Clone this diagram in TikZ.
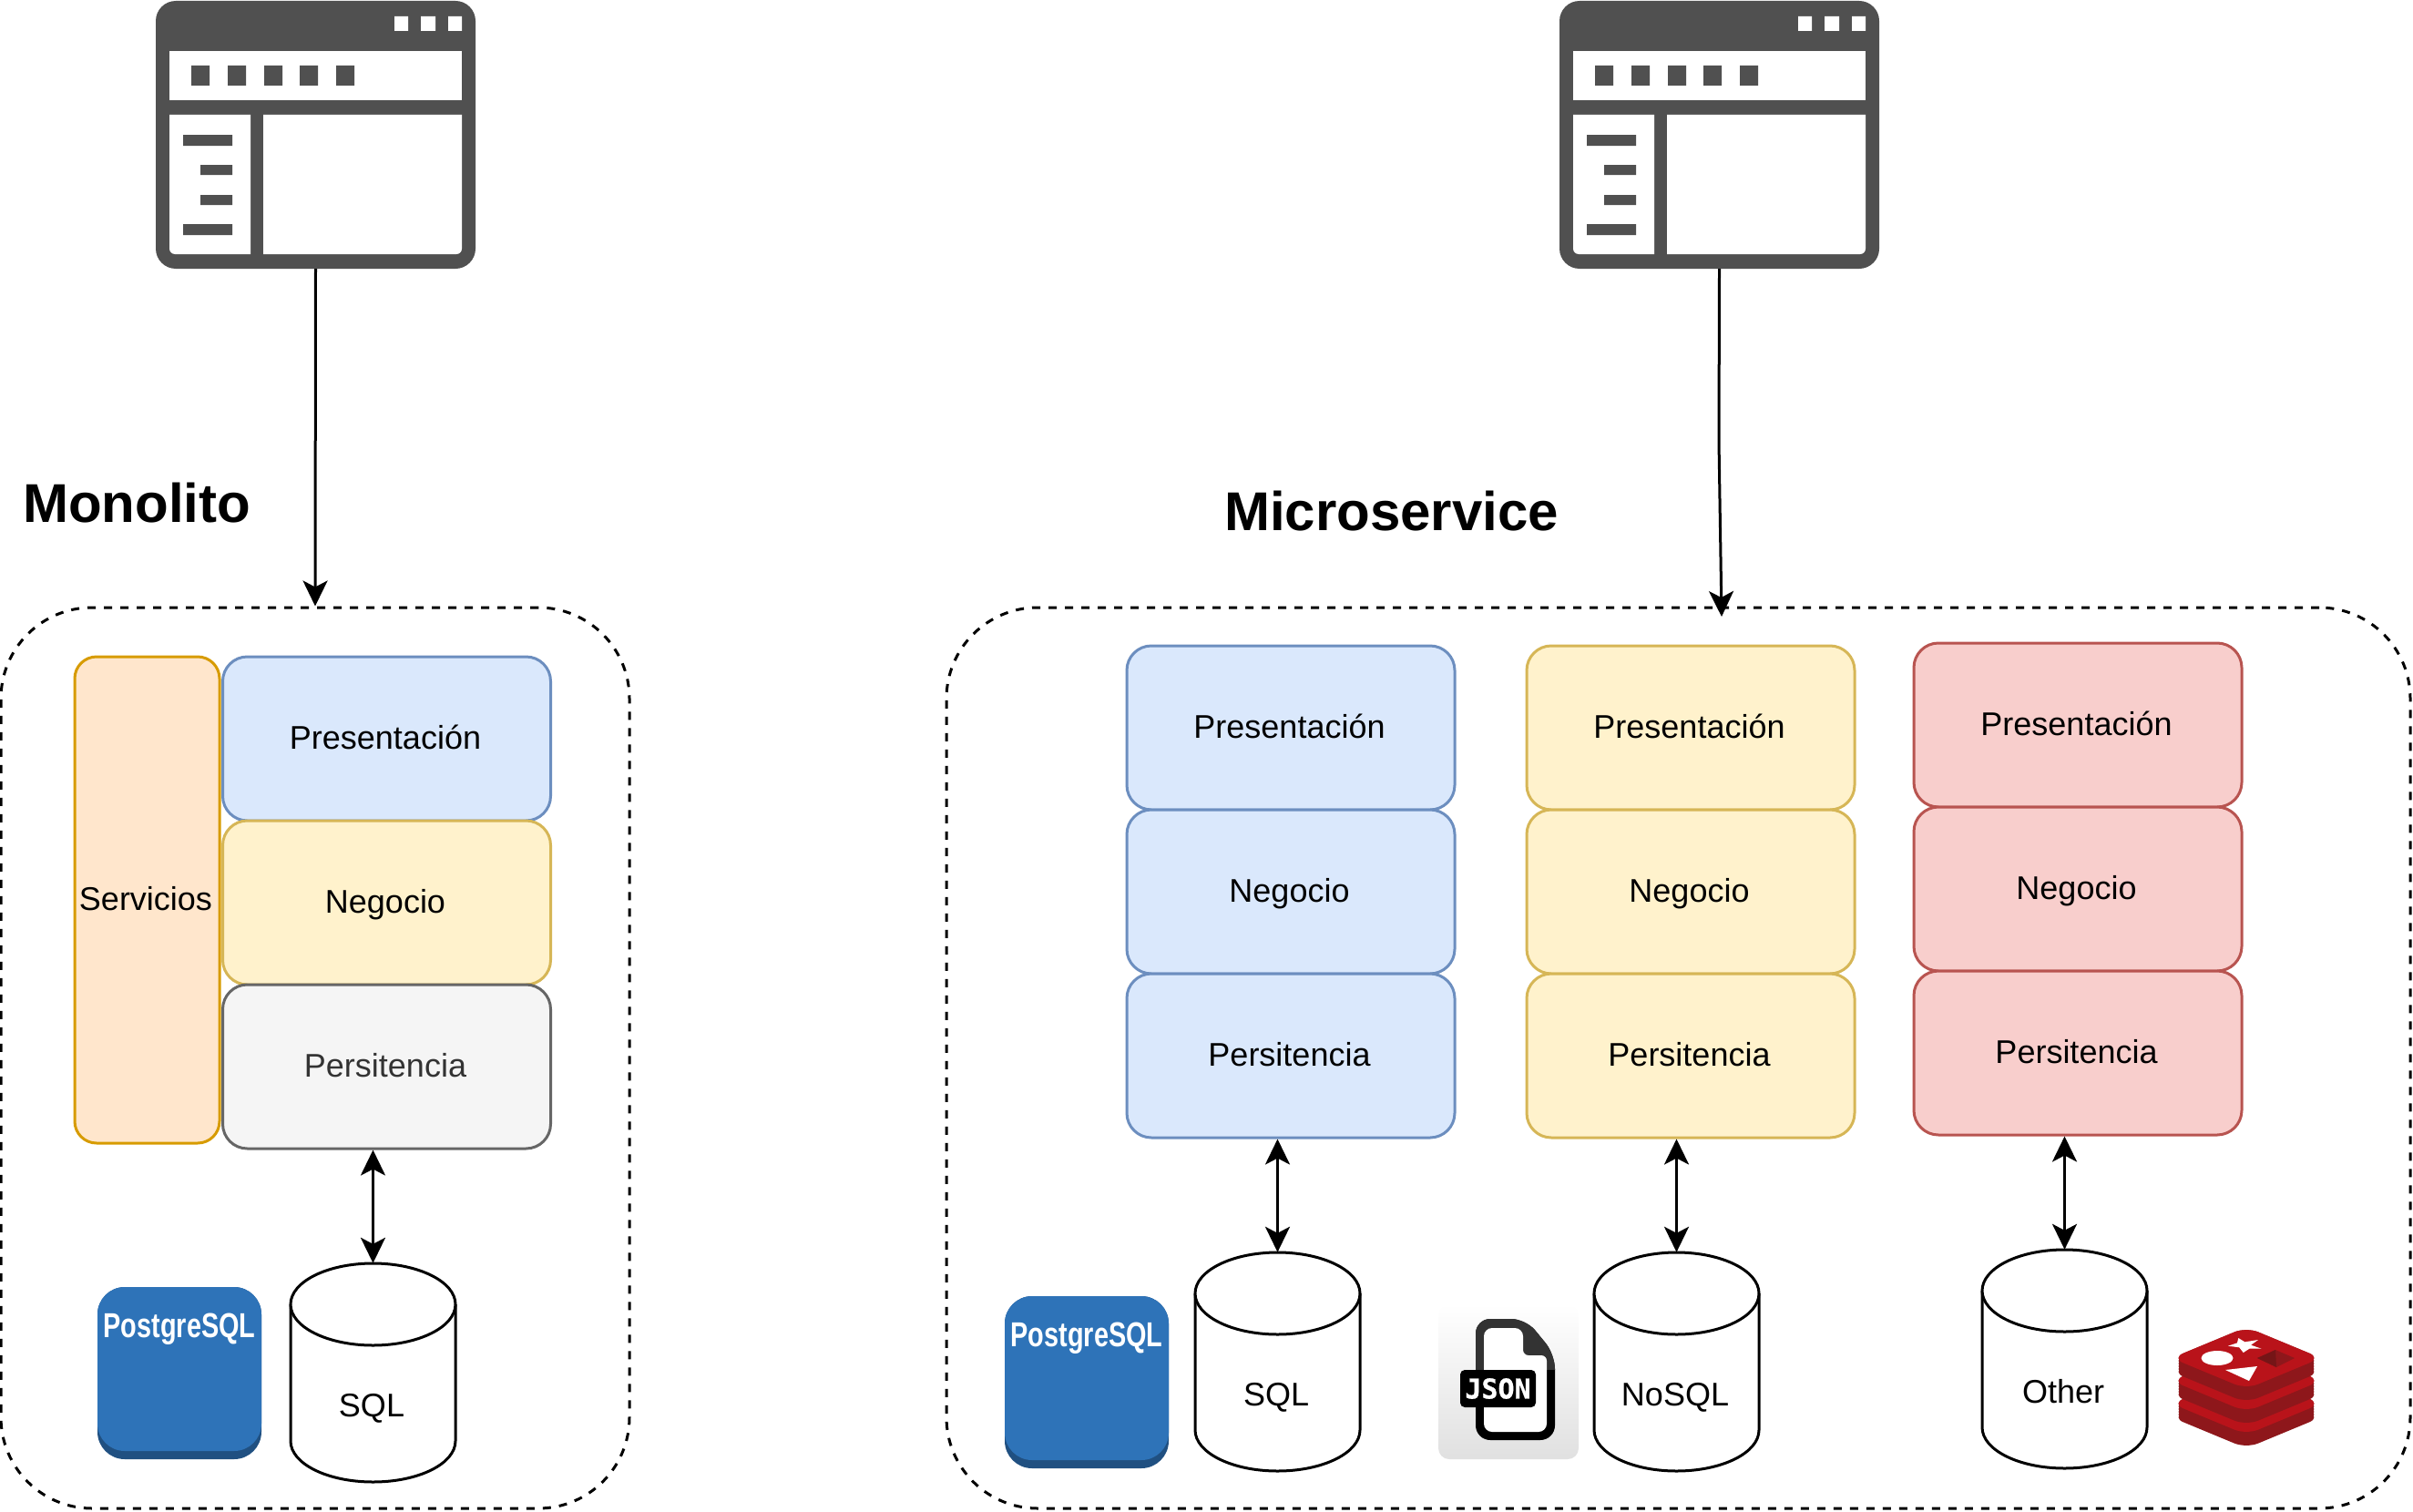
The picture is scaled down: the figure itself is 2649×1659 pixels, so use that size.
\documentclass[tikz,border=0pt]{standalone}
\usepackage{fontspec}
\usepackage{graphicx}
\setmainfont{Liberation Sans}
\newfontfamily\jsonfont{DejaVu Sans Mono}[BoldFeatures={FakeBold=0.8}]
\usetikzlibrary{arrows.meta}
\definecolor{winc}{HTML}{505050}
\definecolor{bluef}{HTML}{DAE8FC}\definecolor{blued}{HTML}{6C8EBF}
\definecolor{yelf}{HTML}{FFF2CC}\definecolor{yeld}{HTML}{D6B656}
\definecolor{redf}{HTML}{F8CECC}\definecolor{redd}{HTML}{B85450}
\definecolor{oraf}{HTML}{FFE6CC}\definecolor{orad}{HTML}{D79B00}
\definecolor{gryf}{HTML}{F5F5F5}\definecolor{gryd}{HTML}{666666}
\definecolor{pgblue}{HTML}{2E73B8}\definecolor{pgdark}{HTML}{205081}
\definecolor{rface}{HTML}{B9131A}\definecolor{rside}{HTML}{8E171B}\definecolor{rdeep}{HTML}{751517}
\tikzset{
  x=1pt,y=-1pt,
  txt/.style={font=\fontsize{36}{42}\selectfont,inner sep=0pt},
  tier/.style={draw,line width=3pt,rounded corners=27pt,minimum width=360pt,minimum height=180pt,inner sep=0pt,font=\fontsize{36}{42}\selectfont,text height=30pt,text depth=8pt,execute at begin node=\kern-3pt},
  bluebox/.style={tier,fill=bluef,draw=blued},
  yelbox/.style={tier,fill=yelf,draw=yeld},
  redbox/.style={tier,fill=redf,draw=redd},
  grybox/.style={tier,fill=gryf,draw=gryd,text=black!80},
  orabox/.style={tier,fill=oraf,draw=orad,rounded corners=24pt},
  group/.style={draw,line width=3pt,dash pattern=on 9pt off 9pt,rounded corners=100pt,inner sep=0pt},
  title/.style={font=\fontsize{60}{66}\selectfont\bfseries,inner sep=0pt},
  link/.style={line width=3pt,-{Stealth[length=28pt,width=27pt,inset=7pt]}},
  biglink/.style={line width=3pt,{Stealth[length=28pt,width=27pt,inset=7pt]}-{Stealth[length=28pt,width=27pt,inset=7pt]}},
  cylline/.style={draw=black,line width=3pt,fill=white},
}
\newcommand\appwin[2]{%
  \node[fill=winc,rounded corners=22pt,minimum width=351pt,minimum height=294pt,inner sep=0pt] (#1) at (#2+346.5,148) {};
  \begin{scope}[xshift=#2pt]
    \fill[white] (186,56) rectangle (507,110);
    \fill[white] (186,126) [rounded corners=6pt] -- (186,279) [sharp corners] -- (275,279) -- (275,126) -- cycle;
    \fill[white] (289,126) -- (289,279) [rounded corners=6pt] -- (507,279) [sharp corners] -- (507,126) -- cycle;
    \fill[white] (433,18) rectangle (448,34) (462,18) rectangle (478,34) (492,18) rectangle (507,34);
    \fill[winc] (210,72) rectangle (230,94) (250,72) rectangle (270,94) (290,72) rectangle (310,94) (329,72) rectangle (349,94) (369,72) rectangle (389,94);
    \fill[winc] (201,148) rectangle (255,160) (220,181) rectangle (255,192) (220,214) rectangle (255,225) (201,246) rectangle (255,258);
  \end{scope}}
\newcommand\dbcyl[4]{%
  \fill[white] (#2-90.5,#3+45) rectangle (#2+90.5,#3+195);
  \draw[cylline] (#2-90.5,#3+45) -- (#2-90.5,#3+195) .. controls (#2-90.5,#3+220) and (#2-50,#3+240) .. (#2,#3+240) .. controls (#2+50,#3+240) and (#2+90.5,#3+220) .. (#2+90.5,#3+195) -- (#2+90.5,#3+45);
  \draw[cylline] (#2,#3+45) ellipse [x radius=90.5pt,y radius=45pt];
  \node[minimum width=181pt,minimum height=240pt,inner sep=0pt] (#1) at (#2,#3+120) {};
  \node[txt,anchor=base] (#1t) at (#2-1.5,#3+168.5) {#4};}
\newcommand\pgicon[3]{%
  \fill[pgdark,rounded corners=30pt] (#2,#3) rectangle (#2+180,#3+189);
  \fill[pgblue,rounded corners=30pt] (#2,#3) rectangle (#2+180,#3+180);
  \node[anchor=base,inner sep=0pt,text=white,font=\fontsize{38}{42}\selectfont\bfseries] (#1) at (#2+90,#3+55) {\scalebox{.76}[1]{PostgreSQL}};}
\newcommand\redislayer[1]{%
  \foreach \dd in {0,3,...,15} {
    \fill[rside,rounded corners=14pt] (2384,1491+#1+\dd) -- (2466,1525+#1+\dd) -- (2548,1491+#1+\dd) -- (2466,1457+#1+\dd) -- cycle;
  }
  \fill[rface,rounded corners=14pt] (2384,1491+#1) -- (2466,1525+#1) -- (2548,1491+#1) -- (2466,1457+#1) -- cycle;}
\begin{document}
\begin{tikzpicture}
\useasboundingbox (0,0) rectangle (2649,1659);
% windows
\appwin{winA}{0}
\appwin{winB}{1541}
% groups
\node[group,minimum width=690pt,minimum height=989pt] (grpA) at (346,1161.5) {};
\node[group,minimum width=1607pt,minimum height=989pt] (grpB) at (1842.5,1161.5) {};
% titles
\node[title,anchor=west] (ttlA) at (25,552) {Monolito};
\node[title,anchor=west] (ttlB) at (1344,561) {Microservice};
% monolith
\node[orabox,minimum width=159pt,minimum height=534pt] (srv) at (161.5,988) {Servicios};
\node[bluebox] (a1) at (424.5,811) {Presentación};
\node[yelbox] (a2) at (424.5,991) {Negocio};
\node[grybox] (a3) at (424.5,1171) {Persitencia};
% col 1
\node[bluebox] (b1) at (1417,799) {Presentación};
\node[bluebox] (b2) at (1417,979) {Negocio};
\node[bluebox] (b3) at (1417,1159) {Persitencia};
% col 2
\node[yelbox] (c1) at (1856,799) {Presentación};
\node[yelbox] (c2) at (1856,979) {Negocio};
\node[yelbox] (c3) at (1856,1159) {Persitencia};
% col 3
\node[redbox] (d1) at (2281,796) {Presentación};
\node[redbox] (d2) at (2281,976) {Negocio};
\node[redbox] (d3) at (2281,1156) {Persitencia};
% cylinders
\dbcyl{dbA}{409.5}{1387}{SQL}
\dbcyl{dbB}{1402.5}{1375}{SQL}
\dbcyl{dbC}{1840.5}{1375}{NoSQL}
\dbcyl{dbD}{2266.5}{1372}{Other}
% postgres
\pgicon{pgA}{107}{1413}
\pgicon{pgB}{1103}{1423}
% json icon
\shade[top color=white,bottom color=black!12,rounded corners=12pt] (1579,1432) rectangle (1733,1602);
\fill[black,rounded corners=16pt] (1620,1581) -- (1620,1448) -- (1675,1448) -- (1707,1487) -- (1707,1581) -- cycle;
\begin{scope}
  \clip (1600,1440) rectangle (1720,1503);
  \fill[black!80,rounded corners=16pt] (1620,1581) -- (1620,1448) -- (1675,1448) -- (1707,1487) -- (1707,1581) -- cycle;
\end{scope}
\fill[white,rounded corners=9pt] (1629,1572) -- (1629,1458) -- (1672,1458) [rounded corners=6pt] -- (1672,1488) -- (1698,1488) [rounded corners=9pt] -- (1698,1572) -- cycle;
\node[fill=black,text=white,rounded corners=5pt,inner sep=0pt,minimum width=83pt,minimum height=41pt,font=\fontsize{30}{32}\selectfont\jsonfont\bfseries] (jsn) at (1644.5,1524.5) {JSON};
% redis icon
\redislayer{50}
\redislayer{25}
\redislayer{0}
\fill[white] (2434,1491) ellipse [x radius=17.5pt,y radius=8pt];
\fill[white] (2457.3,1469) -- (2464.3,1473.3) -- (2479,1471) -- (2471,1476.7) -- (2482.7,1480.7) -- (2469.3,1480.7) -- (2462.7,1485) -- (2458.3,1479.3) -- (2446,1477.7) -- (2456,1474.3) -- cycle;
\fill[white] (2443,1504) -- (2478,1500) -- (2469,1516) -- cycle;
\fill[rside] (2498,1482) -- (2519,1491) -- (2499,1501) -- (2478,1491) -- cycle;
\fill[rdeep] (2498,1482) -- (2499,1501) -- (2478,1491) -- cycle;
% connectors
\draw[link] (winA.south) -- (grpA.north);
\coordinate (bend) at (1887,485);
\coordinate (endB) at (1890,677);
\draw[link] (winB.south) -- (bend) -- (endB);
\draw[biglink] (a3.south -| dbA.north) -- (dbA.north);
\draw[biglink] (b3.south -| dbB.north) -- (dbB.north);
\draw[biglink] (c3.south -| dbC.north) -- (dbC.north);
\draw[biglink] (d3.south -| dbD.north) -- (dbD.north);
\end{tikzpicture}
\end{document}
